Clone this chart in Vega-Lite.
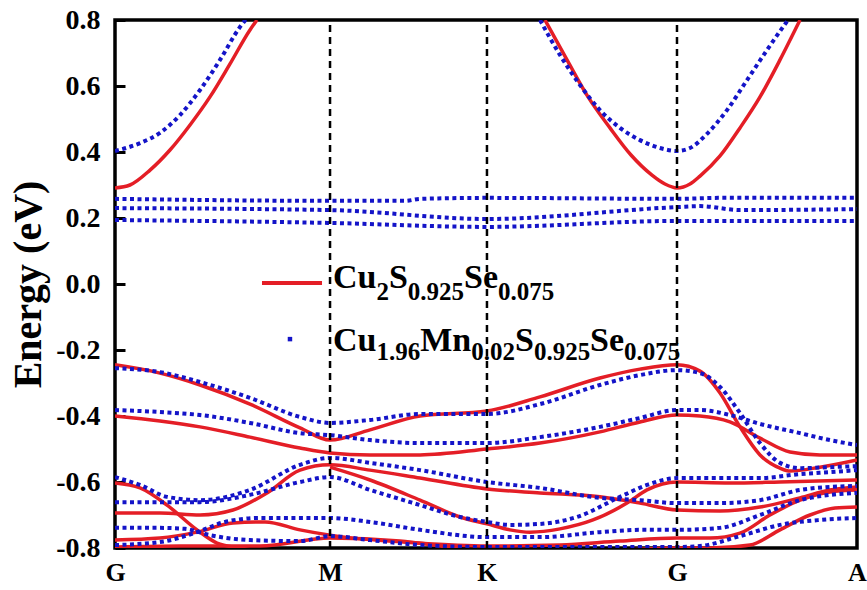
{
  "$schema": "https://vega.github.io/schema/vega-lite/v6.json",
  "width": 742,
  "height": 528,
  "autosize": {"type": "none"},
  "padding": {"left": 115, "top": 20, "right": 10, "bottom": 42},
  "background": "white",
  "config": {"view": {"stroke": "black", "strokeWidth": 3.5}, "font": "Liberation Serif"},
  "datasets": {
    "red": [
      {"b":"c1","k":0,"e":0.291},{"b":"c1","k":2.02,"e":0.300},{"b":"c1","k":4.72,"e":0.345},{"b":"c1","k":7.41,"e":0.406},{"b":"c1","k":10.11,"e":0.482},{"b":"c1","k":12.80,"e":0.567},{"b":"c1","k":15.50,"e":0.667},{"b":"c1","k":18.19,"e":0.770},{"b":"c1","k":19.14,"e":0.800},
      {"b":"c2","k":57.95,"e":0.800},{"b":"c2","k":60.92,"e":0.679},{"b":"c2","k":63.75,"e":0.567},{"b":"c2","k":66.71,"e":0.473},{"b":"c2","k":69.54,"e":0.391},{"b":"c2","k":72.37,"e":0.330},{"b":"c2","k":74.12,"e":0.303},{"b":"c2","k":75.74,"e":0.291},{"b":"c2","k":77.49,"e":0.303},{"b":"c2","k":78.84,"e":0.327},{"b":"c2","k":81.54,"e":0.388},{"b":"c2","k":84.23,"e":0.473},{"b":"c2","k":86.93,"e":0.567},{"b":"c2","k":89.62,"e":0.679},{"b":"c2","k":92.32,"e":0.800},
      {"b":"r1","k":0,"e":-0.245},{"b":"r1","k":6.06,"e":-0.270},{"b":"r1","k":11.46,"e":-0.306},{"b":"r1","k":18.19,"e":-0.364},{"b":"r1","k":24.93,"e":-0.436},{"b":"r1","k":28.98,"e":-0.473},{"b":"r1","k":34.37,"e":-0.442},{"b":"r1","k":41.11,"e":-0.400},{"b":"r1","k":50.13,"e":-0.385},{"b":"r1","k":57.28,"e":-0.342},{"b":"r1","k":65.36,"e":-0.285},{"b":"r1","k":70.75,"e":-0.258},{"b":"r1","k":75.74,"e":-0.245},{"b":"r1","k":78.84,"e":-0.264},{"b":"r1","k":81.54,"e":-0.330},{"b":"r1","k":84.23,"e":-0.433},{"b":"r1","k":86.93,"e":-0.518},{"b":"r1","k":89.62,"e":-0.558},{"b":"r1","k":90.97,"e":-0.567},{"b":"r1","k":95.01,"e":-0.555},{"b":"r1","k":100,"e":-0.533},
      {"b":"r2","k":0,"e":-0.400},{"b":"r2","k":6.06,"e":-0.415},{"b":"r2","k":11.46,"e":-0.433},{"b":"r2","k":18.19,"e":-0.464},{"b":"r2","k":24.93,"e":-0.497},{"b":"r2","k":28.98,"e":-0.512},{"b":"r2","k":34.37,"e":-0.518},{"b":"r2","k":41.11,"e":-0.518},{"b":"r2","k":50.13,"e":-0.500},{"b":"r2","k":57.28,"e":-0.482},{"b":"r2","k":65.36,"e":-0.448},{"b":"r2","k":70.75,"e":-0.418},{"b":"r2","k":75.74,"e":-0.397},{"b":"r2","k":78.84,"e":-0.400},{"b":"r2","k":82.88,"e":-0.418},{"b":"r2","k":86.93,"e":-0.467},{"b":"r2","k":90.97,"e":-0.509},{"b":"r2","k":95.01,"e":-0.518},{"b":"r2","k":100,"e":-0.518},
      {"b":"r3","k":0,"e":-0.603},{"b":"r3","k":3.37,"e":-0.618},{"b":"r3","k":7.01,"e":-0.670},{"b":"r3","k":11.05,"e":-0.745},{"b":"r3","k":13.75,"e":-0.785},{"b":"r3","k":16.85,"e":-0.800},{"b":"r3","k":20.89,"e":-0.815},
      {"b":"r4","k":0,"e":-0.694},{"b":"r4","k":6.06,"e":-0.694},{"b":"r4","k":11.46,"e":-0.700},{"b":"r4","k":15.90,"e":-0.685},{"b":"r4","k":20.49,"e":-0.633},{"b":"r4","k":24.93,"e":-0.564},{"b":"r4","k":28.98,"e":-0.548},{"b":"r4","k":34.37,"e":-0.564},{"b":"r4","k":41.11,"e":-0.588},{"b":"r4","k":50.13,"e":-0.621},{"b":"r4","k":57.28,"e":-0.633},{"b":"r4","k":65.36,"e":-0.645},{"b":"r4","k":70.75,"e":-0.664},{"b":"r4","k":75.74,"e":-0.685},{"b":"r4","k":81.54,"e":-0.688},{"b":"r4","k":86.93,"e":-0.676},{"b":"r4","k":92.32,"e":-0.648},{"b":"r4","k":96.36,"e":-0.624},{"b":"r4","k":100,"e":-0.615},
      {"b":"r5","k":28.98,"e":-0.555},{"b":"r5","k":34.37,"e":-0.594},{"b":"r5","k":41.11,"e":-0.655},{"b":"r5","k":46.50,"e":-0.706},{"b":"r5","k":50.13,"e":-0.727},{"b":"r5","k":53.23,"e":-0.745},{"b":"r5","k":55.93,"e":-0.752},{"b":"r5","k":59.97,"e":-0.742},{"b":"r5","k":64.42,"e":-0.715},{"b":"r5","k":69.00,"e":-0.664},{"b":"r5","k":71.70,"e":-0.624},{"b":"r5","k":75.74,"e":-0.600},{"b":"r5","k":82.88,"e":-0.603},{"b":"r5","k":89.62,"e":-0.600},{"b":"r5","k":100,"e":-0.594},
      {"b":"r6","k":0,"e":-0.776},{"b":"r6","k":6.06,"e":-0.770},{"b":"r6","k":11.05,"e":-0.752},{"b":"r6","k":15.90,"e":-0.724},{"b":"r6","k":20.22,"e":-0.721},{"b":"r6","k":24.93,"e":-0.745},{"b":"r6","k":28.98,"e":-0.761},{"b":"r6","k":40.70,"e":-0.785},{"b":"r6","k":50.13,"e":-0.794},{"b":"r6","k":59.97,"e":-0.791},{"b":"r6","k":68.06,"e":-0.779},{"b":"r6","k":75.74,"e":-0.770},{"b":"r6","k":80.19,"e":-0.770},{"b":"r6","k":84.23,"e":-0.755},{"b":"r6","k":88.27,"e":-0.700},{"b":"r6","k":92.32,"e":-0.655},{"b":"r6","k":96.36,"e":-0.630},{"b":"r6","k":100,"e":-0.624},
      {"b":"r7","k":65.36,"e":-0.812},{"b":"r7","k":75.74,"e":-0.800},{"b":"r7","k":80.19,"e":-0.800},{"b":"r7","k":85.58,"e":-0.791},{"b":"r7","k":89.62,"e":-0.745},{"b":"r7","k":93.67,"e":-0.700},{"b":"r7","k":97.04,"e":-0.679},{"b":"r7","k":100,"e":-0.676},
      {"b":"r8","k":0,"e":-0.797},{"b":"r8","k":8.76,"e":-0.794},{"b":"r8","k":19.54,"e":-0.794},{"b":"r8","k":28.98,"e":-0.770},{"b":"r8","k":38.41,"e":-0.779},{"b":"r8","k":46.50,"e":-0.803}
    ],
    "blue": [
      {"b":"c1","k":0,"e":0.403},{"b":"c1","k":3.37,"e":0.427},{"b":"c1","k":6.06,"e":0.458},{"b":"c1","k":8.76,"e":0.512},{"b":"c1","k":11.46,"e":0.588},{"b":"c1","k":14.15,"e":0.679},{"b":"c1","k":16.85,"e":0.779},{"b":"c1","k":17.79,"e":0.806},
      {"b":"c2","k":57.28,"e":0.800},{"b":"c2","k":59.97,"e":0.694},{"b":"c2","k":62.67,"e":0.603},{"b":"c2","k":65.36,"e":0.527},{"b":"c2","k":68.06,"e":0.473},{"b":"c2","k":70.75,"e":0.436},{"b":"c2","k":73.45,"e":0.412},{"b":"c2","k":75.74,"e":0.403},{"b":"c2","k":77.49,"e":0.412},{"b":"c2","k":79.78,"e":0.455},{"b":"c2","k":82.48,"e":0.527},{"b":"c2","k":85.18,"e":0.618},{"b":"c2","k":87.87,"e":0.709},{"b":"c2","k":90.03,"e":0.779},{"b":"c2","k":90.70,"e":0.800},
      {"b":"f1","k":0,"e":0.258},{"b":"f1","k":28.98,"e":0.252},{"b":"f1","k":39.1,"e":0.252},{"b":"f1","k":41.11,"e":0.258},{"b":"f1","k":50.13,"e":0.261},{"b":"f1","k":75.74,"e":0.258},{"b":"f1","k":81.54,"e":0.261},{"b":"f1","k":100,"e":0.261},
      {"b":"f2","k":0,"e":0.230},{"b":"f2","k":28.98,"e":0.224},{"b":"f2","k":50.13,"e":0.197},{"b":"f2","k":75.74,"e":0.233},{"b":"f2","k":78.84,"e":0.236},{"b":"f2","k":84.23,"e":0.224},{"b":"f2","k":100,"e":0.227},
      {"b":"f3","k":0,"e":0.194},{"b":"f3","k":28.98,"e":0.185},{"b":"f3","k":50.13,"e":0.173},{"b":"f3","k":75.74,"e":0.191},{"b":"f3","k":100,"e":0.191},
      {"b":"b1","k":0,"e":-0.255},{"b":"b1","k":6.06,"e":-0.267},{"b":"b1","k":11.46,"e":-0.297},{"b":"b1","k":18.19,"e":-0.345},{"b":"b1","k":24.93,"e":-0.403},{"b":"b1","k":28.98,"e":-0.421},{"b":"b1","k":34.37,"e":-0.412},{"b":"b1","k":41.11,"e":-0.394},{"b":"b1","k":50.13,"e":-0.394},{"b":"b1","k":57.28,"e":-0.364},{"b":"b1","k":65.36,"e":-0.306},{"b":"b1","k":70.75,"e":-0.276},{"b":"b1","k":75.74,"e":-0.261},{"b":"b1","k":78.84,"e":-0.270},{"b":"b1","k":81.54,"e":-0.312},{"b":"b1","k":84.23,"e":-0.391},{"b":"b1","k":86.93,"e":-0.482},{"b":"b1","k":89.62,"e":-0.542},{"b":"b1","k":92.32,"e":-0.558},{"b":"b1","k":96.36,"e":-0.555},{"b":"b1","k":100,"e":-0.552},
      {"b":"b2","k":0,"e":-0.382},{"b":"b2","k":6.06,"e":-0.388},{"b":"b2","k":11.46,"e":-0.397},{"b":"b2","k":18.19,"e":-0.421},{"b":"b2","k":24.93,"e":-0.452},{"b":"b2","k":28.98,"e":-0.458},{"b":"b2","k":34.37,"e":-0.473},{"b":"b2","k":41.11,"e":-0.482},{"b":"b2","k":50.13,"e":-0.482},{"b":"b2","k":57.28,"e":-0.464},{"b":"b2","k":65.36,"e":-0.433},{"b":"b2","k":70.75,"e":-0.406},{"b":"b2","k":75.74,"e":-0.382},{"b":"b2","k":78.84,"e":-0.382},{"b":"b2","k":82.88,"e":-0.397},{"b":"b2","k":86.93,"e":-0.424},{"b":"b2","k":92.32,"e":-0.452},{"b":"b2","k":96.36,"e":-0.473},{"b":"b2","k":100,"e":-0.488},
      {"b":"b3","k":0,"e":-0.585},{"b":"b3","k":3.37,"e":-0.609},{"b":"b3","k":7.01,"e":-0.645},{"b":"b3","k":11.46,"e":-0.655},{"b":"b3","k":18.19,"e":-0.624},{"b":"b3","k":24.93,"e":-0.548},{"b":"b3","k":28.98,"e":-0.527},{"b":"b3","k":34.37,"e":-0.542},{"b":"b3","k":41.11,"e":-0.564},{"b":"b3","k":50.13,"e":-0.600},{"b":"b3","k":57.28,"e":-0.618},{"b":"b3","k":65.36,"e":-0.648},{"b":"b3","k":70.75,"e":-0.655},{"b":"b3","k":75.74,"e":-0.664},{"b":"b3","k":81.54,"e":-0.664},{"b":"b3","k":86.93,"e":-0.655},{"b":"b3","k":92.32,"e":-0.624},{"b":"b3","k":96.36,"e":-0.615},{"b":"b3","k":100,"e":-0.612},
      {"b":"b4","k":0,"e":-0.661},{"b":"b4","k":6.06,"e":-0.661},{"b":"b4","k":11.46,"e":-0.661},{"b":"b4","k":18.19,"e":-0.639},{"b":"b4","k":24.93,"e":-0.600},{"b":"b4","k":28.98,"e":-0.585},{"b":"b4","k":34.37,"e":-0.624},{"b":"b4","k":41.11,"e":-0.670},{"b":"b4","k":46.50,"e":-0.706},{"b":"b4","k":50.13,"e":-0.721},{"b":"b4","k":53.23,"e":-0.730},{"b":"b4","k":57.28,"e":-0.727},{"b":"b4","k":62.26,"e":-0.706},{"b":"b4","k":68.06,"e":-0.645},{"b":"b4","k":71.70,"e":-0.609},{"b":"b4","k":75.74,"e":-0.588},{"b":"b4","k":81.54,"e":-0.588},{"b":"b4","k":86.93,"e":-0.588},{"b":"b4","k":92.32,"e":-0.576},{"b":"b4","k":96.36,"e":-0.570},{"b":"b4","k":100,"e":-0.564},
      {"b":"b5","k":0,"e":-0.739},{"b":"b5","k":6.06,"e":-0.739},{"b":"b5","k":9.43,"e":-0.742},{"b":"b5","k":12.80,"e":-0.761},{"b":"b5","k":18.19,"e":-0.776},{"b":"b5","k":24.93,"e":-0.779},{"b":"b5","k":28.98,"e":-0.764},{"b":"b5","k":34.37,"e":-0.776},{"b":"b5","k":41.11,"e":-0.791},{"b":"b5","k":50.13,"e":-0.797},{"b":"b5","k":59.97,"e":-0.797},{"b":"b5","k":68.06,"e":-0.797},{"b":"b5","k":75.74,"e":-0.797},{"b":"b5","k":78.84,"e":-0.794},{"b":"b5","k":84.23,"e":-0.764},{"b":"b5","k":89.62,"e":-0.730},{"b":"b5","k":95.01,"e":-0.715},{"b":"b5","k":100,"e":-0.709},
      {"b":"b6","k":0,"e":-0.791},{"b":"b6","k":6.06,"e":-0.782},{"b":"b6","k":11.05,"e":-0.752},{"b":"b6","k":14.82,"e":-0.721},{"b":"b6","k":19.54,"e":-0.709},{"b":"b6","k":24.93,"e":-0.709},{"b":"b6","k":28.98,"e":-0.709},{"b":"b6","k":34.37,"e":-0.721},{"b":"b6","k":41.11,"e":-0.745},{"b":"b6","k":50.13,"e":-0.767},{"b":"b6","k":57.28,"e":-0.767},{"b":"b6","k":65.36,"e":-0.752},{"b":"b6","k":70.75,"e":-0.745},{"b":"b6","k":75.74,"e":-0.745},{"b":"b6","k":81.54,"e":-0.739},{"b":"b6","k":86.93,"e":-0.700},{"b":"b6","k":92.32,"e":-0.655},{"b":"b6","k":96.36,"e":-0.639},{"b":"b6","k":100,"e":-0.633}
    ],
    "kpoints": [
      {"p":"M","k":28.98,"e":-0.8},{"p":"M","k":28.98,"e":0.8},
      {"p":"K","k":50.13,"e":-0.8},{"p":"K","k":50.13,"e":0.8},
      {"p":"G","k":75.74,"e":-0.8},{"p":"G","k":75.74,"e":0.8}
    ],
    "legline": [{"k":19.81,"e":0.003},{"k":27.9,"e":0.003}],
    "legdot": [{"k":23.58,"e":-0.167}],
    "textmain": [
      {"t":"Cu","k":29.38,"e":-0.0136},{"t":"S","k":36.93,"e":-0.0136},{"t":"Se","k":47.05,"e":-0.0136},
      {"t":"Cu","k":29.38,"e":-0.203},{"t":"Mn","k":41.13,"e":-0.203},{"t":"S","k":53.91,"e":-0.203},{"t":"Se","k":64.03,"e":-0.203}
    ],
    "textsub": [
      {"t":"2","k":35.24,"e":-0.0485},{"t":"0.925","k":39.47,"e":-0.0485},{"t":"0.075","k":51.63,"e":-0.0485},
      {"t":"1.96","k":35.24,"e":-0.230},{"t":"0.02","k":48.01,"e":-0.230},{"t":"0.925","k":56.46,"e":-0.230},{"t":"0.075","k":68.61,"e":-0.230}
    ]
  },
  "encoding": {
    "x": {
      "field": "k", "type": "quantitative",
      "scale": {"domain": [0, 100], "nice": false, "zero": false},
      "axis": {
        "values": [0, 28.98, 50.13, 75.74, 100],
        "labelExpr": "datum.value < 1 ? 'G' : datum.value < 30 ? 'M' : datum.value < 51 ? 'K' : datum.value < 76 ? 'G' : 'A'",
        "ticks": false, "domain": false, "grid": false,
        "labelFont": "Liberation Serif", "labelFontWeight": "bold", "labelFontSize": 26,
        "labelColor": "black", "labelPadding": 11, "title": null,
        "labelFlush": false, "labelOverlap": false
      }
    },
    "y": {
      "field": "e", "type": "quantitative",
      "scale": {"domain": [-0.8, 0.8], "nice": false, "zero": false},
      "axis": {
        "values": [-0.8, -0.6, -0.4, -0.2, 0, 0.2, 0.4, 0.6, 0.8],
        "labelExpr": "(datum.value < -0.001 ? '-' : '') + format(abs(datum.value), '.1f')",
        "tickSize": -10, "tickWidth": 3, "tickColor": "black",
        "domain": false, "grid": false,
        "labelFont": "Liberation Serif", "labelFontWeight": "bold", "labelFontSize": 28,
        "labelColor": "black", "labelPadding": 25,
        "labelFlush": false, "labelOverlap": false,
        "title": "Energy (eV)", "titleFont": "Liberation Serif", "titleFontSize": 40,
        "titleFontWeight": "bold", "titleColor": "black", "titlePadding": 7
      }
    }
  },
  "layer": [
    {
      "data": {"name": "red"},
      "mark": {"type": "line", "color": "#e41e26", "strokeWidth": 3.5, "interpolate": "monotone", "clip": true},
      "encoding": {"detail": {"field": "b", "type": "nominal"}}
    },
    {
      "data": {"name": "blue"},
      "mark": {"type": "line", "color": "#1414c8", "strokeWidth": 4, "strokeDash": [4, 3.5], "interpolate": "monotone", "clip": true},
      "encoding": {"detail": {"field": "b", "type": "nominal"}}
    },
    {
      "data": {"name": "kpoints"},
      "mark": {"type": "line", "color": "black", "strokeWidth": 2.5, "strokeDash": [7, 5]},
      "encoding": {"detail": {"field": "p", "type": "nominal"}, "order": {"field": "e", "type": "quantitative"}}
    },
    {
      "data": {"name": "legline"},
      "mark": {"type": "line", "color": "#e41e26", "strokeWidth": 4},
      "encoding": {}
    },
    {
      "data": {"name": "legdot"},
      "mark": {"type": "point", "shape": "square", "filled": true, "color": "#1414c8", "size": 20, "opacity": 1},
      "encoding": {}
    },
    {
      "data": {"name": "textmain"},
      "mark": {"type": "text", "font": "Liberation Serif", "fontWeight": "bold", "fontSize": 34, "align": "left", "baseline": "alphabetic", "color": "black"},
      "encoding": {"text": {"field": "t", "type": "nominal"}}
    },
    {
      "data": {"name": "textsub"},
      "mark": {"type": "text", "font": "Liberation Serif", "fontWeight": "bold", "fontSize": 25, "align": "left", "baseline": "alphabetic", "color": "black"},
      "encoding": {"text": {"field": "t", "type": "nominal"}}
    }
  ]
}
